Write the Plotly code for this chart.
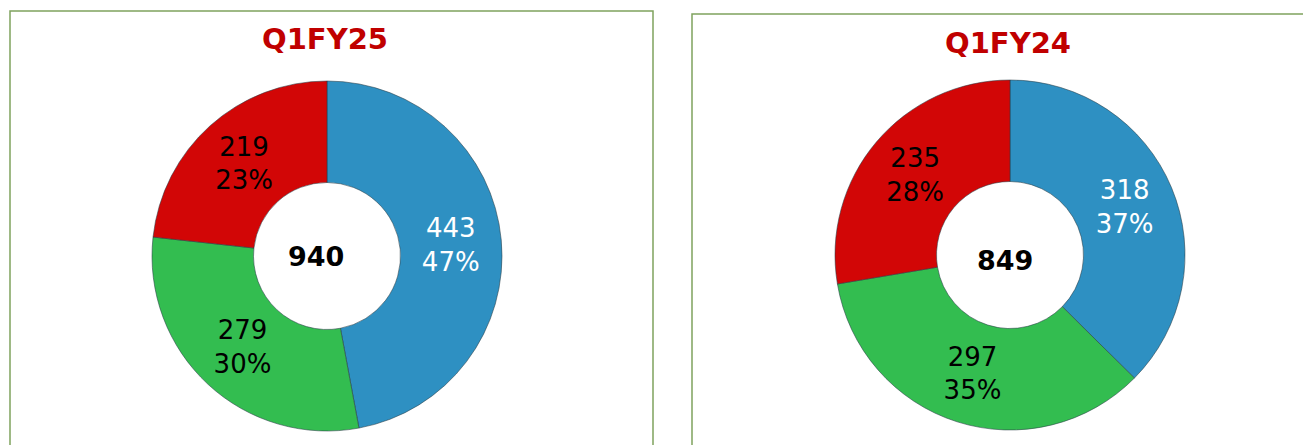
import plotly.graph_objects as go

W, H = 1311, 445
OX, OY = 8, 8  # page body offset compensation

categories = ["A", "B", "C"]
q1fy25_values = [443, 279, 219]
q1fy24_values = [318, 297, 235]
q1fy25_total = "940"
q1fy24_total = "849"
titles = ["Q1FY25", "Q1FY24"]

slice_colors = ["#2E90C2", "#33BD50", "#D20606"]
text_colors = ["white", "black", "black"]

def px(x):
    return (x - OX) / W

def py(y):
    return (H - (y - OY)) / H

def px_dom(cx, cy, r):
    return dict(x=[px(cx - r), px(cx + r)], y=[py(cy + r), py(cy - r)])

fig = go.Figure()
for vals, (cx, cy) in [(q1fy25_values, (327, 256)), (q1fy24_values, (1010, 255))]:
    fig.add_trace(go.Pie(
        labels=categories, values=vals, sort=False, direction="clockwise",
        rotation=0, hole=0.42, domain=px_dom(cx, cy, 175),
        marker=dict(colors=slice_colors, line=dict(color="rgba(40,60,70,0.55)", width=1)),
        texttemplate="%{value}<br>%{percent:.0%}", textposition="inside",
        insidetextorientation="horizontal",
        textfont=dict(family="DejaVu Sans, Verdana", size=26, color=text_colors),
        hoverinfo="label+value+percent", showlegend=False,
    ))

annotations = []
for t, (x, y) in zip(titles, [(325, 39), (1008, 43)]):
    annotations.append(dict(text=t, x=px(x), y=py(y), xref="paper", yref="paper",
                            showarrow=False, xanchor="center", yanchor="middle",
                            font=dict(family="DejaVu Sans", size=29, color="#C00000", weight="bold")))
for t, (x, y) in zip([q1fy25_total, q1fy24_total], [(316, 256), (1005, 260)]):
    annotations.append(dict(text="<b>" + t + "</b>", x=px(x), y=py(y), xref="paper", yref="paper",
                            showarrow=False, xanchor="center", yanchor="middle",
                            font=dict(family="DejaVu Sans", size=27, color="black")))

shapes = [
    dict(type="rect", xref="paper", yref="paper", x0=px(10), x1=px(653), y0=-0.2, y1=py(11),
         line=dict(color="#7FA25E", width=1.5)),
    dict(type="rect", xref="paper", yref="paper", x0=px(692), x1=1.2, y0=-0.2, y1=py(14),
         line=dict(color="#7FA25E", width=1.5)),
]

fig.update_layout(width=W, height=H, margin=dict(l=0, r=0, t=0, b=0),
                  paper_bgcolor="white", plot_bgcolor="white",
                  annotations=annotations, shapes=shapes)
fig.write_html("out.html")
